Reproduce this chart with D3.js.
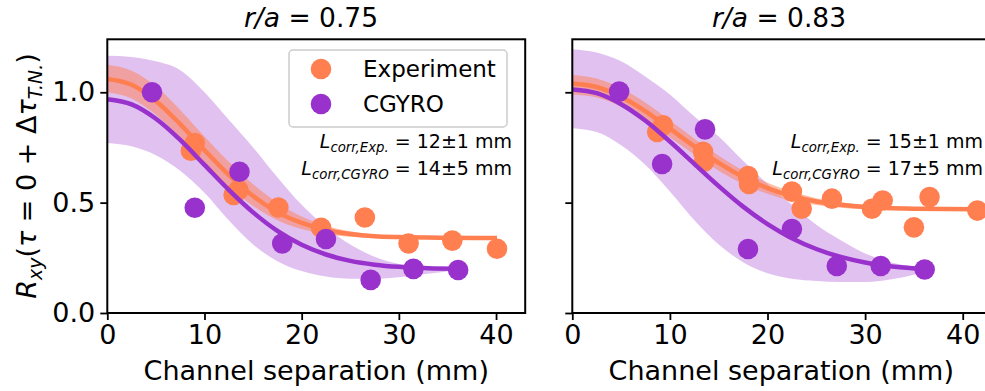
<!DOCTYPE html>
<html>
<head>
<meta charset="utf-8">
<script src="https://cdn.jsdelivr.net/npm/d3@7"></script>
<style>
  html, body { margin: 0; padding: 0; background: #ffffff; }
  svg { display: block; }
  text { font-family: "DejaVu Sans", sans-serif; fill: #000; }
</style>
</head>
<body>
<svg id="fig" width="985" height="391"></svg>
<script>
// ---- measured correlation vs channel separation, r/a = 0.75 ----
const expSepL = [8.6, 9.0, 13.0, 13.5, 17.6, 22.0, 26.5, 31.0, 35.5, 40.1];
const expCorrL = [0.735, 0.77, 0.535, 0.557, 0.478, 0.386, 0.433, 0.315, 0.328, 0.291];
const cgSepL = [4.6, 9.0, 13.6, 18.0, 22.5, 27.1, 31.5, 36.1];
const cgCorrL = [1.0, 0.477, 0.64, 0.315, 0.335, 0.15, 0.2, 0.195];

// fitted curves and their uncertainty envelopes, r/a = 0.75
const expGridL = [0, 2.5, 5, 7.5, 10, 12.5, 15, 17.5, 20, 22.5, 25, 27.5, 30, 35, 40.1];
const expFitL = [1.06, 1.034, 0.961, 0.856, 0.738, 0.626, 0.530, 0.457, 0.408, 0.376, 0.358, 0.348, 0.344, 0.341, 0.340];
const expHiL  = [1.125, 1.098, 1.027, 0.92, 0.80, 0.685, 0.583, 0.50, 0.437, 0.395, 0.370, 0.355, 0.349, 0.345, 0.344];
const expLoL  = [1.0, 0.972, 0.898, 0.795, 0.68, 0.572, 0.485, 0.42, 0.38, 0.357, 0.346, 0.341, 0.339, 0.337, 0.336];
const cgGridL = [0, 2.5, 5, 7.5, 10, 12.5, 15, 17.5, 20, 22.5, 25, 27.5, 30, 33, 36.1];
const cgFitL = [0.968, 0.945, 0.88, 0.784, 0.671, 0.558, 0.456, 0.372, 0.309, 0.265, 0.236, 0.219, 0.209, 0.203, 0.201];
const cgHiL  = [1.165, 1.16, 1.14, 1.10, 1.00, 0.875, 0.75, 0.615, 0.49, 0.39, 0.31, 0.255, 0.222, 0.207, 0.201];
const cgLoL  = [0.77, 0.755, 0.715, 0.645, 0.545, 0.42, 0.31, 0.235, 0.19, 0.165, 0.155, 0.155, 0.162, 0.178, 0.195];

// ---- measured correlation vs channel separation, r/a = 0.83 ----
const expSepR = [8.7, 9.3, 13.4, 13.5, 18.0, 18.1, 22.5, 23.5, 26.6, 30.7, 31.8, 35.0, 36.6, 41.5];
const expCorrR = [0.82, 0.85, 0.73, 0.685, 0.62, 0.585, 0.55, 0.472, 0.518, 0.472, 0.51, 0.388, 0.525, 0.464];
const cgSepR = [4.8, 9.2, 13.6, 18.0, 22.5, 27.1, 31.6, 36.1];
const cgCorrR = [1.003, 0.675, 0.832, 0.29, 0.38, 0.213, 0.213, 0.197];

// fitted curves and their uncertainty envelopes, r/a = 0.83
const expGridR = [0, 2.5, 5, 7.5, 10, 12.5, 15, 17.5, 20, 22.5, 25, 27.5, 30, 35, 41.5];
const expFitR = [1.04, 1.024, 0.98, 0.914, 0.835, 0.755, 0.68, 0.616, 0.566, 0.53, 0.505, 0.49, 0.48, 0.4725, 0.47];
const expHiR  = [1.078, 1.062, 1.018, 0.952, 0.872, 0.79, 0.712, 0.645, 0.59, 0.55, 0.52, 0.502, 0.49, 0.478, 0.474];
const expLoR  = [0.99, 0.976, 0.935, 0.872, 0.796, 0.718, 0.645, 0.585, 0.54, 0.508, 0.489, 0.477, 0.47, 0.466, 0.465];
const cgGridR = [0, 2.5, 5, 7.5, 10, 12.5, 15, 17.5, 20, 22.5, 25, 27.5, 30, 33, 36.1];
const cgFitR = [1.013, 0.996, 0.946, 0.871, 0.777, 0.676, 0.575, 0.482, 0.403, 0.339, 0.29, 0.254, 0.229, 0.21, 0.2];
const cgHiR  = [1.195, 1.18, 1.14, 1.07, 0.99, 0.89, 0.80, 0.69, 0.585, 0.49, 0.40, 0.33, 0.27, 0.225, 0.205];
const cgLoR  = [0.837, 0.82, 0.76, 0.67, 0.55, 0.42, 0.31, 0.23, 0.18, 0.155, 0.145, 0.14, 0.14, 0.155, 0.185];

// ---- labels ----
const panelRadii = ["0.75", "0.83"];
const lcorrExp = ["12±1", "15±1"];
const lcorrCg = ["14±5", "17±5"];
const seriesNames = ["Experiment", "CGYRO"];
const xTicks = [0, 10, 20, 30, 40];
const yTicks = [0.0, 0.5, 1.0];

const ORANGE = "#ff7f50";
const PURPLE = "#9932cc";
const FS = 27;

const svg = d3.select("#fig");

const zip = (xs, ys) => xs.map((x, i) => [x, ys[i]]);
const band = (xs, lo, hi) => xs.map((x, i) => ({x, lo: lo[i], hi: hi[i]}));

// Writes a mathtext-like label made of plain, italic and subscript pieces.
function mathText(textSel, parts, size) {
  let inSub = false;
  parts.forEach(p => {
    const ts = textSel.append("tspan").text(p.t);
    if (p.it) ts.attr("font-style", "italic");
    if (p.sub) {
      ts.attr("font-size", size * 0.7);
      if (!inSub) ts.attr("dy", size * 0.22);
      inSub = true;
    } else {
      ts.attr("font-size", size);
      if (inSub) ts.attr("dy", -size * 0.22);
      inSub = false;
    }
  });
}

const panels = [
  {
    left: 107.3, right: 525.2, r: panelRadii[0], titleX: 311,
    exp: zip(expSepL, expCorrL), cg: zip(cgSepL, cgCorrL),
    expFit: zip(expGridL, expFitL), expBand: band(expGridL, expLoL, expHiL),
    cgFit: zip(cgGridL, cgFitL), cgBand: band(cgGridL, cgLoL, cgHiL),
    lExp: lcorrExp[0], lCg: lcorrCg[0], yLabels: true, legend: true, noteRight: 512
  },
  {
    left: 572.3, right: 992.0, r: panelRadii[1], titleX: 779,
    exp: zip(expSepR, expCorrR), cg: zip(cgSepR, cgCorrR),
    expFit: zip(expGridR, expFitR), expBand: band(expGridR, expLoR, expHiR),
    cgFit: zip(cgGridR, cgFitR), cgBand: band(cgGridR, cgLoR, cgHiR),
    lExp: lcorrExp[1], lCg: lcorrCg[1], yLabels: false, legend: false, noteRight: 983
  }
];

const TOP = 39.3, BOTTOM = 313;
const PANEL_W = 525.2 - 107.3;

panels.forEach((p, idx) => {
  const x = d3.scaleLinear().domain([0, 43]).range([p.left, p.right]);
  const y = d3.scaleLinear().domain([0, 1.24]).range([BOTTOM, TOP]);
  const g = svg.append("g");

  const clipId = "clip" + idx;
  svg.append("clipPath").attr("id", clipId)
    .append("rect").attr("x", p.left).attr("y", TOP)
    .attr("width", p.right - p.left).attr("height", BOTTOM - TOP);
  const plot = g.append("g").attr("clip-path", `url(#${clipId})`);

  const area = d3.area().x(d => x(d.x)).y0(d => y(d.lo)).y1(d => y(d.hi)).curve(d3.curveMonotoneX);
  const line = d3.line().x(d => x(d[0])).y(d => y(d[1])).curve(d3.curveMonotoneX);

  plot.append("path").datum(p.cgBand).attr("d", area)
    .attr("fill", PURPLE).attr("fill-opacity", 0.3);
  plot.append("path").datum(p.expBand).attr("d", area)
    .attr("fill", ORANGE).attr("fill-opacity", 0.5);

  plot.selectAll("circle.exp").data(p.exp).join("circle").attr("class", "exp")
    .attr("cx", d => x(d[0])).attr("cy", d => y(d[1])).attr("r", 10.3)
    .attr("fill", ORANGE);
  plot.append("path").datum(p.expFit).attr("d", line)
    .attr("fill", "none").attr("stroke", ORANGE).attr("stroke-width", 4.5);
  plot.append("path").datum(p.cgFit).attr("d", line)
    .attr("fill", "none").attr("stroke", PURPLE).attr("stroke-width", 4.5);
  plot.selectAll("circle.cg").data(p.cg).join("circle").attr("class", "cg")
    .attr("cx", d => x(d[0])).attr("cy", d => y(d[1])).attr("r", 10.3)
    .attr("fill", PURPLE);

  // frame
  g.append("rect").attr("x", p.left).attr("y", TOP)
    .attr("width", p.right - p.left).attr("height", BOTTOM - TOP)
    .attr("fill", "none").attr("stroke", "#000").attr("stroke-width", 2);

  // axes
  const xAxis = d3.axisBottom(x).tickValues(xTicks).tickSize(7).tickPadding(5)
    .tickFormat(d3.format("d"));
  const xg = g.append("g").attr("transform", `translate(0,${BOTTOM})`).call(xAxis);
  const yAxis = d3.axisLeft(y).tickValues(yTicks).tickSize(7).tickPadding(5)
    .tickFormat(p.yLabels ? d3.format(".1f") : () => "");
  const yg = g.append("g").attr("transform", `translate(${p.left},0)`).call(yAxis);
  [xg, yg].forEach(a => {
    a.select(".domain").remove();
    a.selectAll(".tick line").attr("stroke", "#000").attr("stroke-width", 1.8);
    a.selectAll(".tick text").attr("font-size", FS).attr("font-family", "DejaVu Sans").attr("fill", "#000");
  });

  // x label
  g.append("text").attr("x", p.left + PANEL_W / 2).attr("y", 380)
    .attr("text-anchor", "middle").attr("font-size", FS)
    .text("Channel separation (mm)");

  // title
  const t = g.append("text").attr("x", p.titleX).attr("y", 27)
    .attr("text-anchor", "middle");
  mathText(t, [{t: "r/a", it: true}, {t: " = " + p.r}], 26.5);

  // correlation length notes
  const n1 = g.append("text").attr("x", p.noteRight).attr("y", 148).attr("text-anchor", "end");
  mathText(n1, [{t: "L", it: true}, {t: "corr,Exp.", it: true, sub: true}, {t: " = " + p.lExp + " mm"}], 19);
  const n2 = g.append("text").attr("x", p.noteRight).attr("y", 175).attr("text-anchor", "end");
  mathText(n2, [{t: "L", it: true}, {t: "corr,CGYRO", it: true, sub: true}, {t: " = " + p.lCg + " mm"}], 19);

  if (p.legend) {
    const lg = g.append("g");
    lg.append("rect").attr("x", 289).attr("y", 50).attr("width", 218).attr("height", 77)
      .attr("rx", 4).attr("fill", "#fff").attr("fill-opacity", 0.8)
      .attr("stroke", "#cccccc").attr("stroke-width", 1.5);
    [ORANGE, PURPLE].forEach((c, i) => {
      lg.append("circle").attr("cx", 321).attr("cy", 69 + i * 35).attr("r", 10.3).attr("fill", c);
      lg.append("text").attr("x", 363).attr("y", 77 + i * 35).attr("font-size", 23)
        .text(seriesNames[i]);
    });
  }
});

// shared y label
const yl = svg.append("text").attr("transform", "translate(36,176) rotate(-90)")
  .attr("text-anchor", "middle");
mathText(yl, [
  {t: "R", it: true}, {t: "xy", it: true, sub: true},
  {t: "("}, {t: "τ", it: true}, {t: " = 0 + Δ"}, {t: "τ", it: true},
  {t: "T.N.", it: true, sub: true}, {t: ")"}
], FS);
</script>
</body>
</html>
